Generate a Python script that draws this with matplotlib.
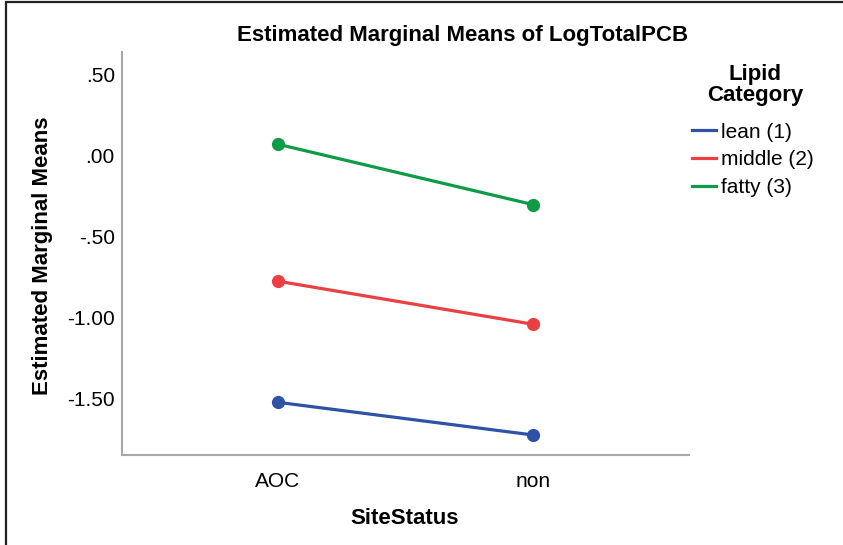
import matplotlib.pyplot as plt
from matplotlib.patches import Rectangle

plt.rcParams['font.family'] = ['Liberation Sans', 'DejaVu Sans']

site_status = ['AOC', 'non']
categories = ['lean (1)', 'middle (2)', 'fatty (3)']
means = {
    'lean (1)': [-1.525, -1.727],
    'middle (2)': [-0.776, -1.042],
    'fatty (3)': [0.071, -0.302],
}
colors = {'lean (1)': '#2F52A6', 'middle (2)': '#EB3F44', 'fatty (3)': '#0E9B47'}
yticks = [0.5, 0.0, -0.5, -1.0, -1.5]
ytick_labels = ['.50', '.00', '-.50', '-1.00', '-1.50']

W, H = 843, 545
fig = plt.figure(figsize=(W / 100, H / 100), dpi=100)
ax = fig.add_axes([121.7 / W, 1 - 455 / H, (689 - 121.7) / W, (455 - 51.7) / H])

xs = range(len(site_status))
for cat in categories:
    ax.plot(xs, means[cat], color=colors[cat], lw=2.3, marker='o', markersize=8.5,
            label=cat, solid_capstyle='round')

ax.set_xlim(-0.612, 1.613)
ax.set_ylim(-1.851, 0.643)
ax.set_xticks(list(xs))
ax.set_xticklabels(site_status)
ax.set_yticks(yticks)
ax.set_yticklabels(ytick_labels)
ax.tick_params(length=0, labelsize=15, pad=5)
ax.tick_params(axis='x', pad=12)
for side in ['top', 'right']:
    ax.spines[side].set_visible(False)
for side in ['left', 'bottom']:
    ax.spines[side].set_color('#a8a8a8')
    ax.spines[side].set_linewidth(1.5)

fig.text(463 / W, 1 - 36 / H, 'Estimated Marginal Means of LogTotalPCB', fontsize=16,
         fontweight='bold', ha='center', va='center')
ax.set_xlabel('SiteStatus', fontsize=16, fontweight='bold')
ax.set_ylabel('Estimated Marginal Means', fontsize=16, fontweight='bold')
ax.xaxis.set_label_coords((405 - 121.7) / 567.3, (455 - 518) / 403.3)
ax.xaxis.label.set_va('center')
ax.yaxis.set_label_coords((42 - 121.7) / 567.3, (455 - 256) / 403.3)
ax.yaxis.label.set_va('center')

# legend title drawn separately so it sits centred above the entries like SPSS
fig.text(755 / W, 1 - 85 / H, 'Lipid\nCategory', fontsize=16, fontweight='bold',
         ha='center', va='center', multialignment='center', linespacing=1.0)
handles = [plt.Line2D([], [], color=colors[c], lw=2.3) for c in categories]
leg = fig.legend(handles, categories, loc='upper left', bbox_to_anchor=(677 / W, 1 - 108 / H),
                 frameon=False, fontsize=15,
                 handlelength=1.15, handletextpad=0.25, labelspacing=0.42, borderpad=0.2)

fig.patches.append(Rectangle((6 / W, -0.1), 1.2, 1 - 2 / H + 0.1, transform=fig.transFigure,
                             fill=False, edgecolor='#222222', lw=1.6))

fig.savefig('out.png', dpi=100)
